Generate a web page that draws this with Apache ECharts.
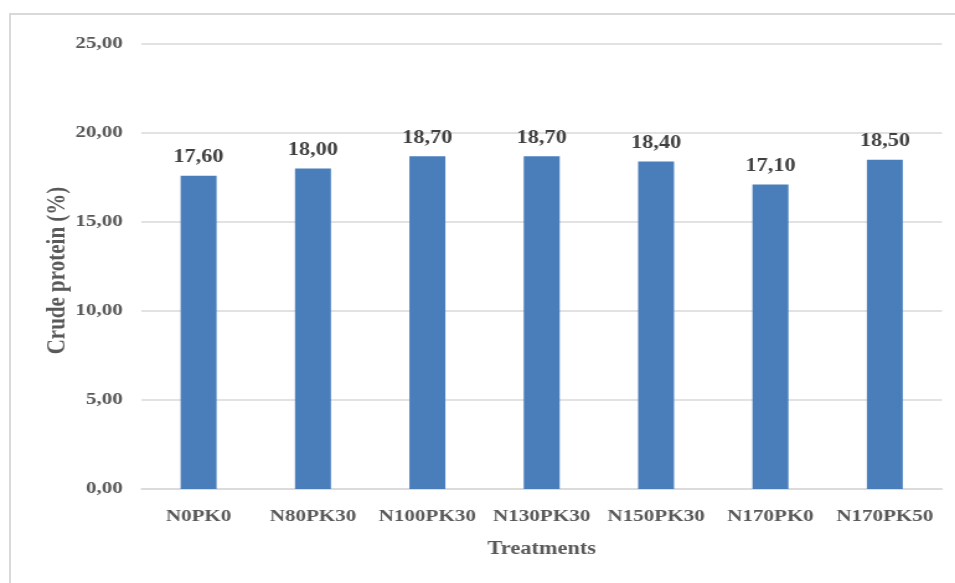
<!DOCTYPE html>
<html><head><meta charset="utf-8">
<script src="https://cdn.jsdelivr.net/npm/echarts@6/dist/echarts.min.js"></script>
<style>
html,body{margin:0;padding:0;background:#fff;overflow:hidden;}
#frame{position:absolute;left:9px;top:13px;width:946px;height:570px;border-top:2px solid #d9d9d9;border-left:2px solid #d9d9d9;box-sizing:border-box;}
#c{position:absolute;left:0;top:0;width:770px;height:583px;transform:scaleX(1.2403);transform-origin:0 0;}
</style></head>
<body>
<div id="frame"></div>
<div id="c"></div>
<script>
const categories = ['N0PK0','N80PK30','N100PK30','N130PK30','N150PK30','N170PK0','N170PK50'];
const values = [17.6, 18.0, 18.7, 18.7, 18.4, 17.1, 18.5];
const yTicks = {min: 0, max: 25, interval: 5};
const fmt = v => v.toFixed(2).replace('.', ',');
const font = '"Liberation Serif", "Times New Roman", serif';
const chart = echarts.init(document.getElementById('c'));
chart.setOption({
  animation: false,
  grid: {left: 114, right: 10.5, top: 44, bottom: 94},
  xAxis: {
    type: 'category', data: categories,
    name: 'Treatments', nameLocation: 'middle', nameGap: 51,
    nameTextStyle: {fontFamily: font, fontWeight: 'bold', fontSize: 18, color: '#595959'},
    axisLine: {show: true, lineStyle: {color: '#d9d9d9', width: 1.5}},
    axisTick: {show: false},
    axisLabel: {fontFamily: font, fontWeight: 'bold', fontSize: 17, color: '#595959', margin: 19, interval: 0}
  },
  yAxis: {
    type: 'value', min: yTicks.min, max: yTicks.max, interval: yTicks.interval,
    name: 'Crude protein (%)', nameLocation: 'middle', nameGap: 57, nameMoveOverlap: false,
    nameTextStyle: {fontFamily: font, fontWeight: 'bold', fontSize: 21, color: '#595959', padding: [0, 8, 0, 0]},
    axisLine: {show: false}, axisTick: {show: false},
    axisLabel: {fontFamily: font, fontWeight: 'bold', fontSize: 17, color: '#595959', margin: 15, formatter: fmt},
    splitLine: {lineStyle: {color: '#d9d9d9', width: 1.5}}
  },
  series: [{
    type: 'bar', data: values, barWidth: 29,
    itemStyle: {color: '#4a7ebb'},
    label: {show: true, position: 'top', distance: 9, formatter: p => fmt(p.value),
      fontFamily: font, fontWeight: 'bold', fontSize: 18, color: '#404040'}
  }]
});
</script>
</body></html>
